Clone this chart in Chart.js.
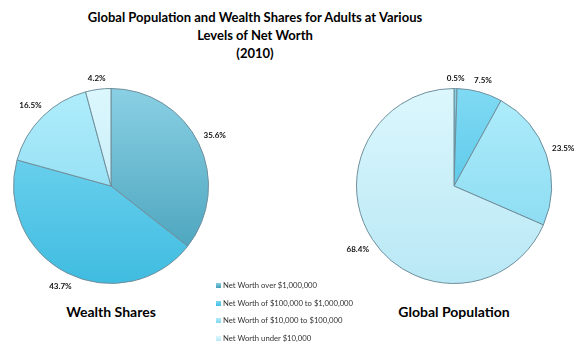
<!DOCTYPE html>
<html lang="en">
<head>
<meta charset="UTF-8">
<title>Global Population and Wealth Shares</title>
<script src="https://cdn.jsdelivr.net/npm/chart.js"></script>
<style>
    body {
        margin: 0;
        width: 580px;
        height: 351px;
        background: #ffffff;
        font-family: 'Lato', 'Liberation Sans', sans-serif;
        position: relative;
        overflow: hidden;
    }
    .title {
        position: absolute;
        left: 55px;
        width: 400px;
        top: 8px;
        text-align: center;
        font-weight: bold;
        font-size: 13px;
        line-height: 18px;
        color: #000;
    }
    .caption {
        position: absolute;
        top: 303px;
        font-weight: bold;
        font-size: 14px;
        color: #000;
        width: 200px;
        text-align: center;
    }
    .legend {
        position: absolute;
        left: 216px;
        top: 280px;
        font-size: 7.7px;
        color: #333;
    }
    .legend div {
        height: 17.5px;
        line-height: 11px;
    }
    .legend span.box {
        display: inline-block;
        width: 5px;
        height: 5px;
        margin-right: 2px;
        vertical-align: 0px;
    }
    canvas { position: absolute; }
</style>
</head>
<body>
<div class="title">Global Population and Wealth Shares for Adults at Various<br>Levels of Net Worth<br>(2010)</div>

<div style="position:absolute;left:0;top:66px;width:244px;height:234px"><canvas id="wealthChart"></canvas></div>
<div style="position:absolute;left:330px;top:66px;width:248px;height:234px"><canvas id="popChart"></canvas></div>

<div class="caption" style="left:11px">Wealth Shares</div>
<div class="caption" style="left:354px">Global Population</div>

<div class="legend" id="legend"></div>

<script>
// categories (net worth bands)
const categories = [
    'Net Worth over $1,000,000',
    'Net Worth of $100,000 to $1,000,000',
    'Net Worth of $10,000 to $100,000',
    'Net Worth under $10,000'
];
// shares in percent
const wealthShares = [35.6, 43.7, 16.5, 4.2];
const populationShares = [0.5, 7.5, 23.5, 68.4];

// slice colours: [light top, dark bottom]
const sliceColors = [
    ['#8ad0e4', '#409db7'],
    ['#80daf4', '#3fbce0'],
    ['#b0edfb', '#80d6ef'],
    ['#dcf7fd', '#b8e8f5']
];

// build the legend from the categories
const legendEl = document.getElementById('legend');
categories.forEach((cat, i) => {
    const row = document.createElement('div');
    const box = document.createElement('span');
    box.className = 'box';
    box.style.background = 'linear-gradient(' + sliceColors[i][0] + ',' + sliceColors[i][1] + ')';
    row.appendChild(box);
    row.appendChild(document.createTextNode(cat));
    legendEl.appendChild(row);
});

// percentage labels outside each slice, like Excel "outside end"
const outsideLabels = {
    id: 'outsideLabels',
    afterDraw(chart) {
        const ctx = chart.ctx;
        const meta = chart.getDatasetMeta(0);
        const values = chart.data.datasets[0].data;
        ctx.save();
        ctx.font = 'bold 8px Lato, sans-serif';
        ctx.fillStyle = '#111';
        ctx.textAlign = 'center';
        ctx.textBaseline = 'middle';
        meta.data.forEach((arc, i) => {
            const mid = (arc.startAngle + arc.endAngle) / 2;
            const text = values[i].toFixed(1) + '%';
            const w = ctx.measureText(text).width;
            const h = 8;
            const c = Math.cos(mid), s = Math.sin(mid);
            const d = arc.outerRadius + 6 + Math.abs(c) * w / 2 + Math.abs(s) * h / 2;
            ctx.fillText(text, arc.x + c * d, arc.y + s * d);
        });
        ctx.restore();
    }
};

function sliceGradient(context) {
    const chart = context.chart;
    const area = chart.chartArea;
    const col = sliceColors[context.dataIndex];
    if (!area) return col[1];
    const g = chart.ctx.createLinearGradient(0, area.top, 0, area.bottom);
    g.addColorStop(0, col[0]);
    g.addColorStop(1, col[1]);
    return g;
}

function makePie(id, values, padding) {
    new Chart(document.getElementById(id), {
        type: 'pie',
        data: {
            labels: categories,
            datasets: [{
                data: values,
                backgroundColor: sliceGradient,
                borderColor: '#6f8f9c',
                borderWidth: 1
            }]
        },
        options: {
            responsive: true,
            maintainAspectRatio: false,
            animation: false,
            layout: { padding: padding },
            plugins: {
                legend: { display: false },
                tooltip: { enabled: false }
            }
        },
        plugins: [outsideLabels]
    });
}

makePie('wealthChart', wealthShares, { left: 13, right: 35, top: 22, bottom: 16 });
makePie('popChart', populationShares, { left: 26, right: 26, top: 22, bottom: 16 });
</script>
</body>
</html>
